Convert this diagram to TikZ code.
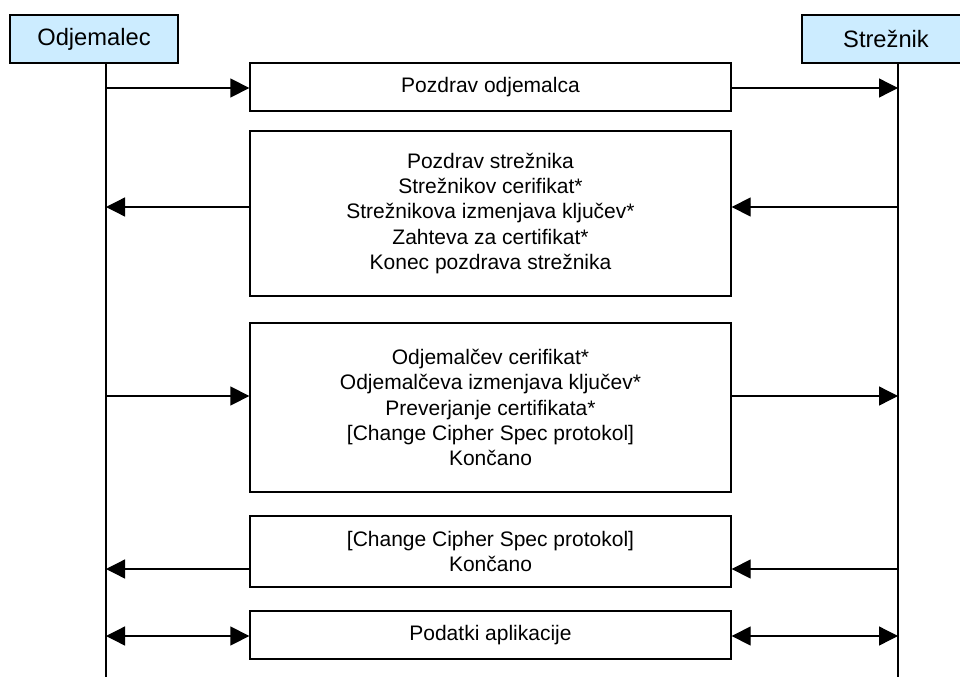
\documentclass[tikz,border=0pt]{standalone}
\usepackage{fontspec}
\setmainfont{Liberation Sans}
\usetikzlibrary{arrows.meta}
\definecolor{headblue}{HTML}{CCECFF}
\begin{document}
\begin{tikzpicture}[x=1pt,y=-1pt,
  party/.style={draw, line width=1.3pt, fill=headblue, minimum width=168pt, minimum height=48pt,
    inner sep=0pt, font=\fontsize{23.7}{28}\selectfont},
  msgbox/.style={draw, line width=1.3pt, fill=white, minimum width=481pt, inner sep=0pt,
    align=center, font=\fontsize{21}{25.3}\selectfont},
  lifeline/.style={line width=1.3pt},
  msg/.style={line width=1.3pt, -{Triangle[length=19pt,width=19pt]}},
  bimsg/.style={line width=1.3pt, {Triangle[length=19pt,width=19pt]}-{Triangle[length=19pt,width=19pt]}}
]
\useasboundingbox (0,0) rectangle (960,677);
\clip (0,0) rectangle (960,677);

% parties and their lifelines
\node[party] (client) at (94,39) {Odjemalec};
\node[party] (server) at (886,39) {Strežnik};
\coordinate (cbot) at (106,677);
\coordinate (sbot) at (898,677);
\draw[lifeline] (client.south -| cbot) -- (cbot);
\draw[lifeline] (server.south -| sbot) -- (sbot);

% message boxes
\node[msgbox, minimum height=48pt] (m1) at (490.5,87) {Pozdrav odjemalca};
\node[msgbox, minimum height=165pt] (m2) at (490.5,213.5) {Pozdrav strežnika\\Strežnikov cerifikat*\\Strežnikova izmenjava ključev*\\Zahteva za certifikat*\\Konec pozdrava strežnika};
\node[msgbox, minimum height=169pt] (m3) at (490.5,407.5) {Odjemalčev cerifikat*\\Odjemalčeva izmenjava ključev*\\Preverjanje certifikata*\\{[Change Cipher Spec protokol]}\\Končano};
\node[msgbox, minimum height=71pt] (m4) at (490.5,551.5) {{[Change Cipher Spec protokol]}\\Končano};
\node[msgbox, minimum height=48pt] (m5) at (490.5,635) {Podatki aplikacije};

% attachment points on the lifelines
\coordinate (c1) at (106,88);  \coordinate (s1) at (898,88);
\coordinate (c2) at (106,207); \coordinate (s2) at (898,207);
\coordinate (c3) at (106,396); \coordinate (s3) at (898,396);
\coordinate (c4) at (106,569); \coordinate (s4) at (898,569);
\coordinate (c5) at (106,636); \coordinate (s5) at (898,636);

% messages
\draw[msg] (c1) -- (m1.west |- c1);
\draw[msg] (m1.east |- s1) -- (s1);

\draw[msg] (s2) -- (m2.east |- s2);
\draw[msg] (m2.west |- c2) -- (c2);

\draw[msg] (c3) -- (m3.west |- c3);
\draw[msg] (m3.east |- s3) -- (s3);

\draw[msg] (s4) -- (m4.east |- s4);
\draw[msg] (m4.west |- c4) -- (c4);

\draw[bimsg] (c5) -- (m5.west |- c5);
\draw[bimsg] (m5.east |- s5) -- (s5);
\end{tikzpicture}
\end{document}
